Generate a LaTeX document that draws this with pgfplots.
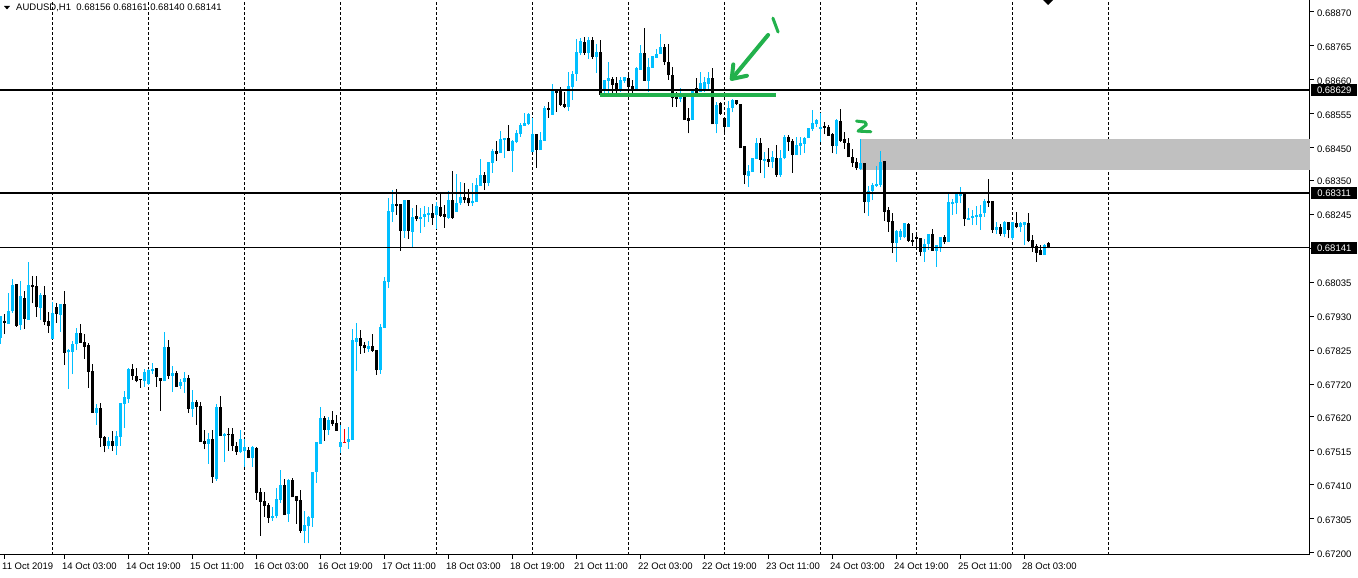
\documentclass[border=0pt]{standalone}
\usepackage{pgfplots}
\pgfplotsset{compat=1.18}
\usepackage{pgfplotstable}
\usepackage{fontspec}
\setmainfont{Liberation Sans}
\definecolor{upc}{RGB}{0,191,255}
\definecolor{grn}{RGB}{34,177,76}
\definecolor{zone}{RGB}{192,192,192}
\newcommand\cf{\fontsize{9.5}{11}\selectfont}

\pgfplotstableread{
i o h l c
0 0.67863 0.67931 0.67845 0.67931
2 0.67907 0.68003 0.67907 0.67946
3 0.67946 0.68045 0.67941 0.68027
5 0.67903 0.68039 0.67888 0.67993
7 0.67920 0.68098 0.67920 0.68027
10 0.67957 0.68002 0.67920 0.67996
13 0.67861 0.67974 0.67861 0.67941
15 0.67935 0.67968 0.67883 0.67968
17 0.67819 0.67830 0.67705 0.67827
18 0.67821 0.67855 0.67751 0.67845
19 0.67844 0.67894 0.67825 0.67879
24 0.67632 0.67659 0.67595 0.67647
27 0.67530 0.67557 0.67519 0.67544
29 0.67530 0.67576 0.67503 0.67560
30 0.67558 0.67662 0.67530 0.67662
31 0.67660 0.67699 0.67586 0.67681
32 0.67676 0.67771 0.67663 0.67768
36 0.67731 0.67767 0.67711 0.67759
37 0.67722 0.67767 0.67718 0.67763
38 0.67761 0.67785 0.67752 0.67767
41 0.67729 0.67882 0.67729 0.67835
43 0.67747 0.67777 0.67696 0.67755
45 0.67715 0.67737 0.67706 0.67728
46 0.67728 0.67758 0.67693 0.67740
48 0.67643 0.67703 0.67620 0.67666
52 0.67537 0.67569 0.67475 0.67552
54 0.67429 0.67659 0.67422 0.67650
56 0.67561 0.67570 0.67481 0.67568
60 0.67511 0.67579 0.67507 0.67552
61 0.67514 0.67550 0.67465 0.67526
63 0.67493 0.67530 0.67466 0.67526
68 0.67307 0.67340 0.67298 0.67313
69 0.67313 0.67400 0.67306 0.67366
70 0.67363 0.67455 0.67354 0.67409
72 0.67319 0.67428 0.67295 0.67424
76 0.67267 0.67329 0.67229 0.67285
77 0.67283 0.67313 0.67229 0.67310
78 0.67308 0.67449 0.67280 0.67449
79 0.67449 0.67542 0.67416 0.67542
80 0.67536 0.67650 0.67536 0.67616
82 0.67579 0.67619 0.67563 0.67610
85 0.67526 0.67594 0.67508 0.67542
87 0.67542 0.67588 0.67520 0.67551
88 0.67548 0.67891 0.67548 0.67857
89 0.67851 0.67909 0.67761 0.67863
92 0.67829 0.67854 0.67820 0.67838
95 0.67764 0.67906 0.67752 0.67897
96 0.67894 0.68051 0.67894 0.68039
97 0.68036 0.68295 0.68017 0.68255
98 0.68252 0.68320 0.68221 0.68277
101 0.68194 0.68289 0.68173 0.68289
103 0.68191 0.68264 0.68145 0.68236
105 0.68231 0.68264 0.68188 0.68238
106 0.68238 0.68270 0.68207 0.68245
107 0.68242 0.68269 0.68221 0.68249
109 0.68244 0.68282 0.68201 0.68271
112 0.68235 0.68317 0.68231 0.68288
114 0.68253 0.68369 0.68253 0.68279
115 0.68279 0.68346 0.68274 0.68299
118 0.68279 0.68341 0.68272 0.68286
119 0.68284 0.68356 0.68284 0.68336
120 0.68333 0.68415 0.68333 0.68366
122 0.68343 0.68408 0.68332 0.68408
123 0.68405 0.68446 0.68374 0.68441
125 0.68434 0.68503 0.68434 0.68477
126 0.68475 0.68481 0.68418 0.68481
128 0.68442 0.68475 0.68377 0.68472
129 0.68468 0.68506 0.68464 0.68497
130 0.68492 0.68528 0.68485 0.68521
131 0.68518 0.68559 0.68518 0.68526
132 0.68524 0.68559 0.68521 0.68555
133 0.68438 0.68542 0.68438 0.68493
135 0.68444 0.68498 0.68444 0.68475
136 0.68472 0.68580 0.68472 0.68573
138 0.68552 0.68648 0.68552 0.68629
142 0.68577 0.68684 0.68564 0.68641
143 0.68639 0.68688 0.68598 0.68679
144 0.68678 0.68787 0.68658 0.68746
145 0.68744 0.68789 0.68737 0.68781
147 0.68744 0.68792 0.68724 0.68784
149 0.68732 0.68771 0.68681 0.68746
151 0.68629 0.68660 0.68619 0.68660
152 0.68657 0.68715 0.68619 0.68665
155 0.68632 0.68670 0.68624 0.68660
156 0.68657 0.68668 0.68652 0.68668
159 0.68632 0.68700 0.68629 0.68696
160 0.68691 0.68768 0.68691 0.68742
162 0.68658 0.68727 0.68624 0.68699
163 0.68698 0.68734 0.68698 0.68734
164 0.68729 0.68756 0.68729 0.68740
165 0.68740 0.68802 0.68740 0.68761
170 0.68601 0.68636 0.68591 0.68606
173 0.68536 0.68632 0.68536 0.68629
175 0.68624 0.68684 0.68624 0.68650
176 0.68629 0.68670 0.68624 0.68653
177 0.68647 0.68686 0.68626 0.68667
179 0.68523 0.68593 0.68495 0.68583
182 0.68516 0.68595 0.68516 0.68573
183 0.68573 0.68601 0.68560 0.68598
187 0.68364 0.68397 0.68330 0.68379
188 0.68377 0.68418 0.68377 0.68418
189 0.68416 0.68480 0.68416 0.68464
191 0.68410 0.68438 0.68356 0.68416
193 0.68408 0.68441 0.68387 0.68421
195 0.68366 0.68444 0.68361 0.68418
196 0.68418 0.68490 0.68415 0.68485
199 0.68428 0.68485 0.68428 0.68459
200 0.68457 0.68485 0.68428 0.68464
201 0.68463 0.68485 0.68434 0.68482
202 0.68480 0.68512 0.68480 0.68512
203 0.68508 0.68567 0.68503 0.68528
204 0.68523 0.68539 0.68516 0.68536
205 0.68508 0.68557 0.68469 0.68516
209 0.68457 0.68539 0.68430 0.68536
215 0.68384 0.68477 0.68382 0.68405
217 0.68284 0.68332 0.68241 0.68318
218 0.68318 0.68341 0.68289 0.68336
219 0.68332 0.68394 0.68330 0.68339
220 0.68336 0.68442 0.68328 0.68408
224 0.68157 0.68197 0.68099 0.68193
225 0.68174 0.68199 0.68166 0.68194
226 0.68174 0.68219 0.68171 0.68217
231 0.68130 0.68168 0.68099 0.68153
232 0.68153 0.68184 0.68135 0.68184
234 0.68133 0.68150 0.68083 0.68150
235 0.68145 0.68176 0.68130 0.68174
237 0.68161 0.68310 0.68161 0.68282
238 0.68277 0.68291 0.68243 0.68284
239 0.68279 0.68312 0.68245 0.68308
240 0.68302 0.68329 0.68279 0.68312
242 0.68228 0.68264 0.68228 0.68233
243 0.68233 0.68258 0.68212 0.68240
244 0.68238 0.68271 0.68212 0.68242
245 0.68238 0.68274 0.68197 0.68246
246 0.68250 0.68291 0.68238 0.68287
249 0.68197 0.68222 0.68184 0.68205
251 0.68184 0.68225 0.68174 0.68222
253 0.68171 0.68222 0.68166 0.68222
255 0.68207 0.68222 0.68191 0.68219
256 0.68212 0.68221 0.68150 0.68221
261 0.68119 0.68153 0.68119 0.68150
}\upbars

\pgfplotstableread{
i o h l c
1 0.67916 0.67937 0.67875 0.67909
4 0.68030 0.68030 0.67898 0.67900
6 0.67987 0.68008 0.67892 0.67923
8 0.68028 0.68055 0.67970 0.68022
9 0.68024 0.68055 0.67929 0.67960
11 0.67996 0.68024 0.67903 0.67913
12 0.67916 0.67942 0.67880 0.67901
14 0.67959 0.67970 0.67910 0.67937
16 0.67968 0.68008 0.67780 0.67818
20 0.67879 0.67906 0.67849 0.67849
21 0.67851 0.67875 0.67799 0.67836
22 0.67841 0.67847 0.67710 0.67759
23 0.67761 0.67783 0.67632 0.67632
25 0.67647 0.67662 0.67527 0.67555
26 0.67556 0.67560 0.67510 0.67529
28 0.67545 0.67575 0.67515 0.67529
33 0.67767 0.67783 0.67734 0.67747
34 0.67746 0.67769 0.67726 0.67731
35 0.67735 0.67737 0.67710 0.67732
39 0.67771 0.67771 0.67713 0.67744
40 0.67739 0.67739 0.67638 0.67730
42 0.67835 0.67857 0.67737 0.67747
44 0.67755 0.67760 0.67711 0.67713
47 0.67740 0.67750 0.67632 0.67645
49 0.67665 0.67671 0.67595 0.67651
50 0.67652 0.67666 0.67543 0.67543
51 0.67545 0.67579 0.67519 0.67537
53 0.67552 0.67579 0.67416 0.67433
55 0.67650 0.67684 0.67561 0.67561
57 0.67567 0.67586 0.67515 0.67563
58 0.67567 0.67586 0.67515 0.67530
59 0.67530 0.67543 0.67503 0.67512
62 0.67517 0.67527 0.67491 0.67492
64 0.67524 0.67527 0.67363 0.67385
65 0.67387 0.67400 0.67252 0.67357
66 0.67359 0.67387 0.67311 0.67344
67 0.67347 0.67352 0.67293 0.67308
71 0.67409 0.67428 0.67316 0.67316
73 0.67424 0.67431 0.67371 0.67371
74 0.67375 0.67375 0.67289 0.67360
75 0.67363 0.67394 0.67262 0.67267
81 0.67616 0.67622 0.67545 0.67579
83 0.67610 0.67638 0.67591 0.67597
84 0.67600 0.67625 0.67576 0.67576
90 0.67863 0.67888 0.67814 0.67838
91 0.67841 0.67851 0.67817 0.67832
93 0.67838 0.67875 0.67820 0.67823
94 0.67826 0.67826 0.67749 0.67764
99 0.68277 0.68322 0.68243 0.68271
100 0.68277 0.68277 0.68133 0.68194
102 0.68289 0.68289 0.68170 0.68194
104 0.68239 0.68273 0.68223 0.68231
108 0.68249 0.68277 0.68213 0.68235
110 0.68268 0.68313 0.68238 0.68241
111 0.68245 0.68273 0.68203 0.68238
113 0.68289 0.68378 0.68231 0.68235
116 0.68299 0.68341 0.68279 0.68290
117 0.68295 0.68323 0.68272 0.68279
121 0.68366 0.68375 0.68320 0.68343
124 0.68441 0.68472 0.68411 0.68431
127 0.68481 0.68521 0.68442 0.68442
134 0.68493 0.68493 0.68389 0.68444
137 0.68574 0.68593 0.68543 0.68568
139 0.68626 0.68629 0.68562 0.68621
140 0.68627 0.68638 0.68580 0.68583
141 0.68586 0.68624 0.68572 0.68577
146 0.68778 0.68792 0.68737 0.68744
148 0.68784 0.68792 0.68724 0.68732
150 0.68746 0.68784 0.68611 0.68614
153 0.68663 0.68668 0.68619 0.68645
154 0.68652 0.68670 0.68619 0.68632
157 0.68665 0.68681 0.68624 0.68639
158 0.68641 0.68660 0.68619 0.68632
161 0.68742 0.68820 0.68658 0.68658
166 0.68761 0.68771 0.68706 0.68716
167 0.68716 0.68771 0.68660 0.68675
168 0.68675 0.68701 0.68577 0.68603
169 0.68606 0.68624 0.68577 0.68601
171 0.68606 0.68606 0.68536 0.68536
172 0.68543 0.68574 0.68495 0.68533
174 0.68634 0.68667 0.68621 0.68621
178 0.68667 0.68696 0.68523 0.68523
180 0.68588 0.68593 0.68552 0.68554
181 0.68542 0.68542 0.68495 0.68516
184 0.68598 0.68598 0.68583 0.68585
185 0.68585 0.68585 0.68449 0.68449
186 0.68456 0.68456 0.68338 0.68366
190 0.68464 0.68480 0.68372 0.68413
192 0.68416 0.68449 0.68392 0.68406
194 0.68420 0.68459 0.68361 0.68366
197 0.68485 0.68490 0.68441 0.68469
198 0.68472 0.68477 0.68374 0.68428
206 0.68518 0.68531 0.68492 0.68513
207 0.68514 0.68521 0.68487 0.68487
208 0.68492 0.68495 0.68434 0.68457
210 0.68534 0.68569 0.68469 0.68472
211 0.68477 0.68500 0.68446 0.68466
212 0.68466 0.68480 0.68421 0.68421
213 0.68421 0.68446 0.68392 0.68403
214 0.68408 0.68418 0.68382 0.68387
216 0.68403 0.68403 0.68248 0.68284
221 0.68410 0.68410 0.68225 0.68253
222 0.68258 0.68269 0.68191 0.68222
223 0.68224 0.68248 0.68125 0.68157
227 0.68215 0.68219 0.68160 0.68164
228 0.68166 0.68186 0.68147 0.68160
229 0.68176 0.68186 0.68143 0.68169
230 0.68173 0.68173 0.68116 0.68130
233 0.68184 0.68199 0.68133 0.68133
236 0.68174 0.68181 0.68153 0.68160
241 0.68312 0.68315 0.68209 0.68230
247 0.68286 0.68353 0.68269 0.68281
248 0.68286 0.68286 0.68188 0.68197
250 0.68205 0.68215 0.68178 0.68184
252 0.68222 0.68222 0.68171 0.68197
254 0.68217 0.68253 0.68202 0.68205
257 0.68217 0.68248 0.68160 0.68164
258 0.68166 0.68181 0.68130 0.68145
259 0.68147 0.68153 0.68099 0.68127
260 0.68135 0.68150 0.68119 0.68119
262 0.68156 0.68161 0.68140 0.68141
}\downbars

\pgfplotstableread{
i o h l c
86 0.67541 0.67582 0.67538 0.67539
}\dojibars

\pgfplotsset{
  candle/.style n args={2}{draw=none, no markers, forget plot,
    error bars/.cd, y dir=plus, y explicit, error mark=none,
    error bar style={draw=#1, line width=#2, solid}},
}

\begin{document}
\begin{tikzpicture}
\path[use as bounding box] (0pt,-23pt) rectangle (1358pt,555pt);
\begin{axis}[
  at={(0pt,0pt)}, anchor=south west,
  scale only axis, width=1310pt, height=555pt,
  xmin=-0.125, xmax=327.375, ymin=0.671928, ymax=0.68907,
  axis x line*=bottom, axis y line*=right,
  axis line style={-, black, line width=1pt},
  clip mode=individual,
  tick align=outside, major tick length=4pt,
  tick style={black, line width=1pt},
  xtick={1,16,32,48,64,80,96,112,128,144,160,176,192,208,224,240,256},
  xticklabels={11 Oct 2019,14 Oct 03:00,14 Oct 19:00,15 Oct 11:00,16 Oct 03:00,16 Oct 19:00,17 Oct 11:00,18 Oct 03:00,18 Oct 19:00,21 Oct 11:00,22 Oct 03:00,22 Oct 19:00,23 Oct 11:00,24 Oct 03:00,24 Oct 19:00,25 Oct 11:00,28 Oct 03:00},
  xticklabel style={anchor=north west, xshift=-2.5pt, font=\cf, inner sep=0pt, yshift=-4pt},
  ytick={0.67200,0.67305,0.67410,0.67515,0.67620,0.67720,0.67825,0.67930,0.68035,0.68140,0.68245,0.68350,0.68450,0.68555,0.68660,0.68765,0.68870},
  yticklabels={0.67200,0.67305,0.67410,0.67515,0.67620,0.67720,0.67825,0.67930,0.68035,0.68140,0.68245,0.68350,0.68450,0.68555,0.68660,0.68765,0.68870},
  yticklabel pos=right,
  yticklabel style={anchor=west, font=\cf, inner sep=0pt, xshift=3pt, yshift=-1.3pt},
  extra x ticks={13,37,61,85,109,133,157,181,205,229,253,277},
  extra x tick labels={},
  extra x tick style={grid=major, major tick length=0pt, major grid style={black, line width=1pt, dash pattern=on 3pt off 2pt}},
]
% supply zone
\fill[zone] (axis cs:214.9,0.68382) rectangle (axis cs:327.375,0.68478);

% down candles
\addplot[candle={black}{1pt}] table[x=i, y=l, y error plus expr=\thisrow{h}-\thisrow{l}] {\downbars};
\addplot[candle={black}{3pt}] table[x=i, y=c, y error plus expr=\thisrow{o}-\thisrow{c}] {\downbars};
% up candles
\addplot[candle={upc}{1pt}] table[x=i, y=l, y error plus expr=\thisrow{h}-\thisrow{l}] {\upbars};
\addplot[candle={upc}{3pt}] table[x=i, y=o, y error plus expr=\thisrow{c}-\thisrow{o}] {\upbars};
% doji
\addplot[candle={red}{1pt}] table[x=i, y=l, y error plus expr=\thisrow{h}-\thisrow{l}] {\dojibars};
\addplot[candle={red}{3pt}] table[x=i, y=c, y error plus expr=\thisrow{o}-\thisrow{c}] {\dojibars};

% horizontal levels
\addplot[black, line width=2pt, forget plot] coordinates {(-0.125,0.68629) (327.375,0.68629)};
\addplot[black, line width=2pt, forget plot] coordinates {(-0.125,0.68311) (327.375,0.68311)};
\addplot[black, line width=1pt, forget plot] coordinates {(-0.125,0.68141) (327.375,0.68141)};

% green annotations
\draw[grn, line width=4.5pt] (axis cs:149.9,0.68613) -- (axis cs:193.9,0.68613);
\draw[grn, line width=4pt, line cap=round] (axis cs:191.9,0.68799) -- (axis cs:183.0,0.68666);
\draw[grn, line width=4pt, line cap=round, line join=round] (axis cs:183.2,0.68708) -- (axis cs:182.8,0.68663) -- (axis cs:186.6,0.68673);
\draw[grn, line width=3pt, line cap=round] (axis cs:193.1,0.68851) -- (axis cs:194.4,0.68808);
\draw[grn, line width=3pt, line cap=round, line join=round] (axis cs:214.0,0.68533) -- (axis cs:216.1,0.68530) -- (axis cs:216.5,0.68522) -- (axis cs:214.4,0.68502) -- (axis cs:217.6,0.68500);

\coordinate (b1) at (axis cs:327.375,0.68629);
\coordinate (b2) at (axis cs:327.375,0.68311);
\coordinate (b3) at (axis cs:327.375,0.68141);
\end{axis}
\foreach \c/\t in {b1/0.68629,b2/0.68311,b3/0.68141}{
  \node[fill=black, text=white, anchor=west, minimum width=46pt, minimum height=12pt, inner sep=0pt, font=\cf] at ([xshift=1pt]\c) {\t};
}
% title
\fill (4pt,549pt) -- (10pt,549pt) -- (7pt,545.5pt) -- cycle;
\node[anchor=west, inner sep=0pt, font=\cf] at (16pt,547pt) {AUDUSD,H1\ \ 0.68156 0.68161 0.68140 0.68141};
\fill (1043pt,555pt) -- (1053pt,555pt) -- (1048pt,550pt) -- cycle;
\end{tikzpicture}
\end{document}
